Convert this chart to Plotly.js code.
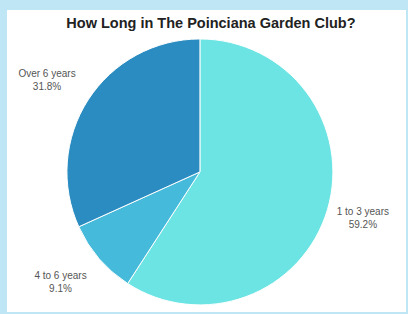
<!DOCTYPE html>
<html><head><meta charset="utf-8">
<script src="https://cdn.plot.ly/plotly-3.0.1.min.js"></script>
<style>
html,body{margin:0;padding:0;background:#bfe6f5;width:408px;height:314px;overflow:hidden}
#frame{position:absolute;left:7px;top:10px;width:399px;height:302px;background:#fff}
#chart{position:absolute;left:0;top:0;width:408px;height:314px}
</style></head><body>
<div id="frame"></div>
<div id="chart"></div>
<script>
const categories = ["1 to 3 years", "4 to 6 years", "Over 6 years"];
const values = [59.2, 9.1, 31.8];
const colors = ["#6ce4e4", "#46bada", "#2a8cc0"];
const labelTemplates = [
  " <br>%{label}<br>%{value:.1f}%",
  " <br> <br>%{label}<br>%{value:.1f}%",
  "%{label}<br>%{value:.1f}%<br> <br> "
];

Plotly.newPlot("chart", [{
  type: "pie",
  labels: categories,
  values: values,
  sort: false,
  direction: "clockwise",
  rotation: 0,
  marker: {colors: colors, line: {color: "#ffffff", width: 1}},
  texttemplate: labelTemplates,
  textposition: "outside",
  textfont: {family: "Liberation Sans, Arial, sans-serif", size: 10, color: "#555"},
  hoverinfo: "none",
  domain: {x: [0.164, 0.816], y: [0.029, 0.876]}
}], {
  width: 408, height: 314,
  margin: {l: 0, r: 0, t: 0, b: 0},
  paper_bgcolor: "rgba(0,0,0,0)",
  showlegend: false,
  title: {text: "How Long in The Poinciana Garden Club?", x: 0.517, xanchor: "center", y: 0.928, yanchor: "middle",
    font: {family: "Liberation Sans, Arial, sans-serif", size: 14.5, color: "#222", weight: "bold"}}
}, {staticPlot: true, displayModeBar: false});
</script></body></html>
